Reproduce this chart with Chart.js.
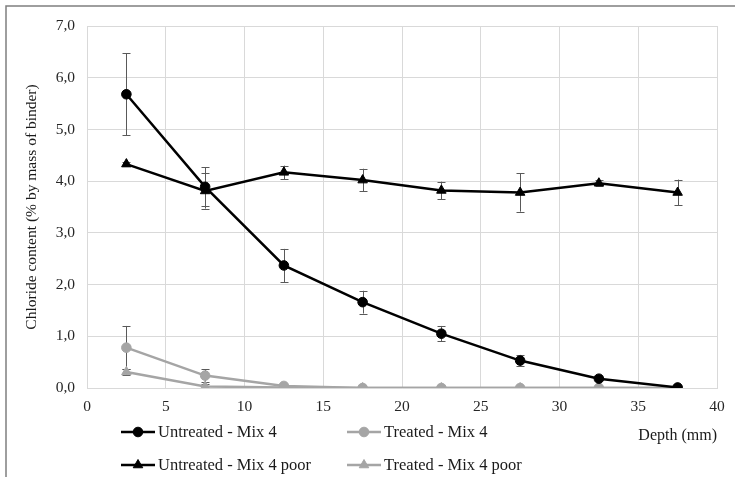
<!DOCTYPE html>
<html>
<head>
<meta charset="utf-8">
<script src="https://cdn.jsdelivr.net/npm/chart.js@4/dist/chart.umd.min.js"></script>
<style>
  html, body { margin: 0; padding: 0; background: #fff; }
  #wrap { width: 735px; height: 477px; position: relative; }
</style>
</head>
<body>
<div id="wrap"><canvas id="c" width="735" height="477"></canvas></div>
<script>
// ---- data ----
const depths = [2.5, 7.5, 12.5, 17.5, 22.5, 27.5, 32.5, 37.5];
const untreatedMix4 = [5.68, 3.89, 2.37, 1.66, 1.05, 0.53, 0.18, 0.01];
const untreatedMix4Err = [0.79, 0.38, 0.32, 0.22, 0.15, 0.11, 0.02, 0];
const treatedMix4 = [0.78, 0.24, 0.04, 0, 0, 0, 0, 0];
const treatedMix4Err = [0.42, 0.12, 0.02, 0, 0, 0, 0, 0];
const untreatedMix4Poor = [4.33, 3.81, 4.17, 4.02, 3.82, 3.78, 3.96, 3.78];
const untreatedMix4PoorErr = [0.04, 0.34, 0.13, 0.22, 0.17, 0.37, 0.06, 0.25];
const treatedMix4Poor = [0.31, 0.03, 0.01, 0, 0, 0, 0, 0];
const treatedMix4PoorErr = [0.05, 0.04, 0, 0, 0, 0, 0, 0];
const seriesNames = ['Untreated - Mix 4', 'Treated - Mix 4', 'Untreated - Mix 4 poor', 'Treated - Mix 4 poor'];
const xTitle = 'Depth (mm)';
const yTitle = 'Chloride content (% by mass of binder)';

const FONT = "'Liberation Serif', 'Times New Roman', serif";
const BLACK = '#000000';
const GREY = '#a5a5a5';

function pts(vals) { return depths.map((d, i) => ({ x: d, y: vals[i] })); }

function ds(label, vals, errs, color, style) {
  return {
    label: label,
    data: pts(vals),
    errors: errs,
    borderColor: color,
    backgroundColor: color,
    pointBackgroundColor: color,
    pointBorderColor: color,
    pointStyle: style,
    pointRadius: style === 'triangle' ? 5.5 : 4.8,
    pointBorderWidth: 1,
    borderWidth: 2.5,
    tension: 0,
    fill: false
  };
}

const datasets = [
  ds(seriesNames[0], untreatedMix4, untreatedMix4Err, BLACK, 'circle'),
  ds(seriesNames[1], treatedMix4, treatedMix4Err, GREY, 'circle'),
  ds(seriesNames[2], untreatedMix4Poor, untreatedMix4PoorErr, BLACK, 'triangle'),
  ds(seriesNames[3], treatedMix4Poor, treatedMix4PoorErr, GREY, 'triangle')
];
// draw order: grey first, black on top
datasets[0].order = 1; datasets[2].order = 2; datasets[1].order = 3; datasets[3].order = 4;

const errorBars = {
  id: 'errorBars',
  beforeDatasetsDraw(chart) {
    const ctx = chart.ctx;
    const xs = chart.scales.x, ys = chart.scales.y;
    ctx.save();
    ctx.strokeStyle = '#595959';
    ctx.lineWidth = 1;
    chart.data.datasets.forEach(d => {
      d.data.forEach((p, i) => {
        const e = d.errors[i];
        if (!e) return;
        const x = Math.round(xs.getPixelForValue(p.x)) + 0.5;
        const y1 = ys.getPixelForValue(p.y + e);
        const y2 = ys.getPixelForValue(Math.max(0, p.y - e));
        ctx.beginPath();
        ctx.moveTo(x, y1); ctx.lineTo(x, y2);
        ctx.moveTo(x - 4, Math.round(y1) + 0.5); ctx.lineTo(x + 4, Math.round(y1) + 0.5);
        if (p.y - e > 0) { ctx.moveTo(x - 4, Math.round(y2) + 0.5); ctx.lineTo(x + 4, Math.round(y2) + 0.5); }
        ctx.stroke();
      });
    });
    ctx.restore();
  }
};

const customLegend = {
  id: 'customLegend',
  afterDraw(chart) {
    const ctx = chart.ctx;
    const ca = chart.chartArea;
    const colX = [ca.left + 34, ca.left + 260];
    const rowY = [ca.bottom + 44, ca.bottom + 77];
    ctx.save();
    chart.data.datasets.forEach((d, i) => {
      const col = i % 2, row = Math.floor(i / 2);
      const x0 = colX[col], y = rowY[row];
      ctx.strokeStyle = d.borderColor;
      ctx.lineWidth = d.borderWidth;
      ctx.beginPath();
      ctx.moveTo(x0, y); ctx.lineTo(x0 + 34, y);
      ctx.stroke();
      ctx.fillStyle = d.pointBackgroundColor;
      ctx.strokeStyle = d.pointBorderColor;
      ctx.lineWidth = 1;
      Chart.helpers.drawPoint(ctx, { pointStyle: d.pointStyle, radius: d.pointRadius, rotation: 0, borderWidth: 1 }, x0 + 17, y);
      ctx.fillStyle = '#1a1a1a';
      ctx.font = '16.5px ' + FONT;
      ctx.textBaseline = 'middle';
      ctx.textAlign = 'left';
      ctx.fillText(d.label, x0 + 37, y + 1);
    });
    // outer frame (top and left)
    ctx.strokeStyle = '#7f7f7f';
    ctx.lineWidth = 1.5;
    ctx.beginPath();
    ctx.moveTo(6, 477); ctx.lineTo(6, 6); ctx.lineTo(735, 6);
    ctx.stroke();
    ctx.restore();
  }
};

new Chart(document.getElementById('c'), {
  type: 'line',
  data: { datasets: datasets },
  options: {
    responsive: false,
    animation: false,
    devicePixelRatio: 1,
    layout: { padding: { left: 0, right: 18, top: 26, bottom: 32 } },
    plugins: { legend: { display: false }, tooltip: { enabled: false } },
    scales: {
      x: {
        type: 'linear',
        min: 0, max: 40,
        afterFit(s) { s.height = 57; },
        ticks: { stepSize: 5, padding: 10, color: '#262626', font: { family: FONT, size: 15.5 }, maxRotation: 0 },
        grid: { color: '#d9d9d9', lineWidth: 1, drawTicks: false },
        border: { color: '#d9d9d9' },
        title: { display: true, text: xTitle, align: 'end', color: '#1a1a1a', font: { family: FONT, size: 16 }, padding: { top: 0, bottom: 0 } }
      },
      y: {
        min: 0, max: 7,
        afterFit(s) { s.width = 87; },
        ticks: { stepSize: 1, padding: 12, color: '#262626', font: { family: FONT, size: 15.5 },
          callback: v => v.toFixed(1).replace('.', ',') },
        grid: { color: '#d9d9d9', lineWidth: 1, drawTicks: false },
        border: { color: '#d9d9d9' },
        title: { display: true, text: yTitle, color: '#1a1a1a', font: { family: FONT, size: 15.5 }, padding: { top: 23, bottom: 0 } }
      }
    }
  },
  plugins: [errorBars, customLegend]
});
</script>
</body>
</html>
